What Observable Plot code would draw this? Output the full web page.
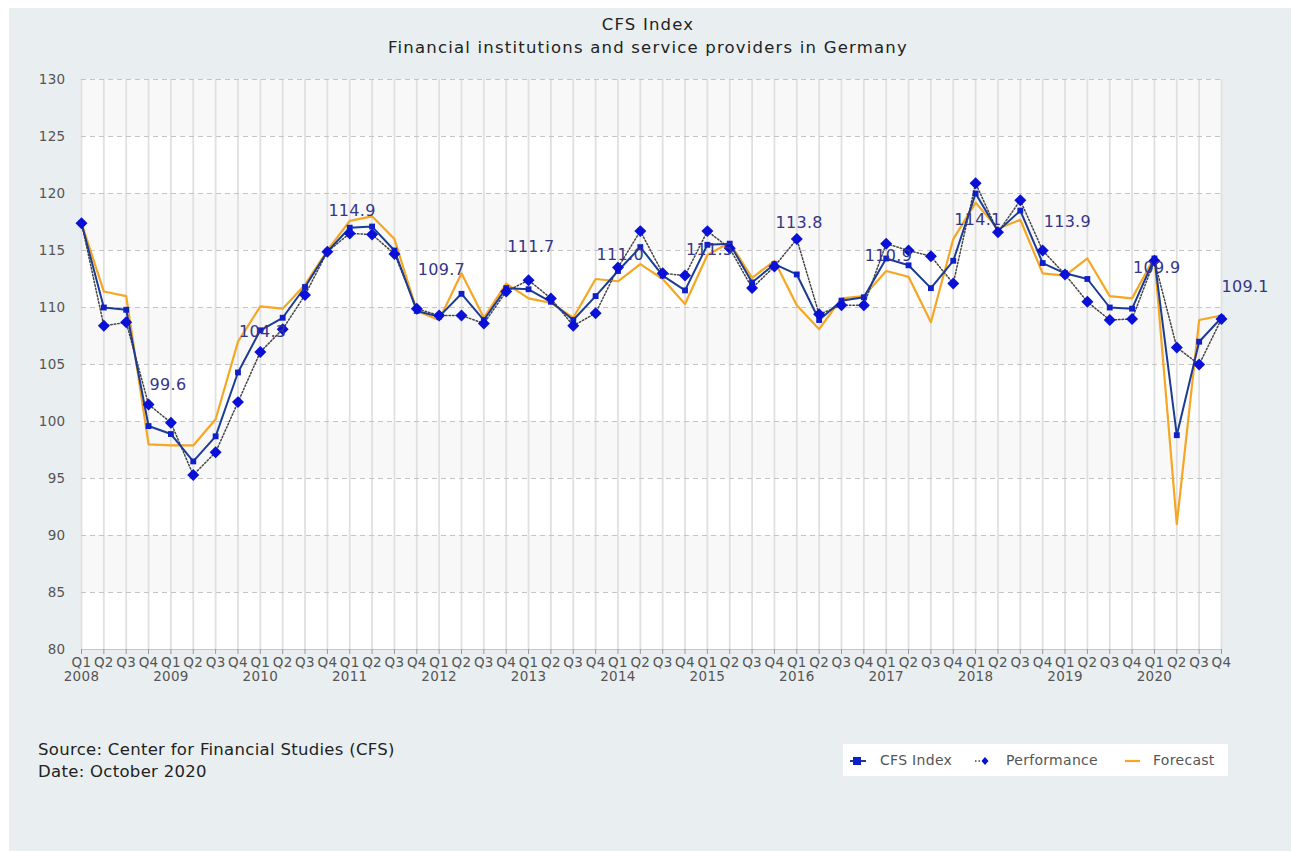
<!DOCTYPE html>
<html>
<head>
<meta charset="utf-8">
<script src="https://cdn.jsdelivr.net/npm/d3@7"></script>
<script src="https://cdn.jsdelivr.net/npm/@observablehq/plot@0.6"></script>
<style>
  html, body { margin: 0; padding: 0; background: #ffffff; width: 1292px; height: 852px; overflow: hidden; }
  #panel { position: absolute; left: 9px; top: 8px; width: 1282px; height: 843px; background: #e9eff1; }
  .t { position: absolute; font-family: "DejaVu Sans", sans-serif; color: #222; white-space: nowrap; }
  #title { left: 0; width: 1296px; text-align: center; top: 13px; font-size: 16.5px; line-height: 23px; letter-spacing: 1.2px; color: #222; }
  #chart { position: absolute; left: 0; top: 60px; }
  #chart svg text { letter-spacing: 0.3px; }
  #source { left: 38px; top: 739px; font-size: 16.5px; line-height: 22px; letter-spacing: 0.3px; color: #222; }
  #legend { position: absolute; left: 843px; top: 744px; width: 385px; height: 32px; background: #fff;
            font-family: "DejaVu Sans", sans-serif; font-size: 14px; letter-spacing: 0.3px; color: #555; }
  #legend span { position: absolute; top: 8px; }
  #legend svg { position: absolute; top: 8px; }
</style>
</head>
<body>
<div id="panel"></div>
<div id="title" class="t">CFS Index<br>Financial institutions and service providers in Germany</div>
<div id="chart"></div>
<div id="source" class="t">Source: Center for Financial Studies (CFS)<br>Date: October 2020</div>
<div id="legend">
  <svg width="22" height="16" style="left:4px"><line x1="3" y1="9" x2="19" y2="9" stroke="#1c3c94" stroke-width="2"/><rect x="6" y="5" width="8" height="8" fill="#1020c8"/></svg>
  <span style="left:37px">CFS Index</span>
  <svg width="22" height="16" style="left:130px"><line x1="2" y1="9" x2="16" y2="9" stroke="#444" stroke-width="1.5" stroke-dasharray="1.5,2"/><path d="M12,5 L15.5,9 L12,13 L8.5,9 Z" fill="#0a10d0"/></svg>
  <span style="left:163px">Performance</span>
  <svg width="22" height="16" style="left:280px"><line x1="2" y1="9" x2="17" y2="9" stroke="#f5a623" stroke-width="2.2"/></svg>
  <span style="left:310px">Forecast</span>
</div>
<script>
// ---- data ----
const years = [2008, 2009, 2010, 2011, 2012, 2013, 2014, 2015, 2016, 2017, 2018, 2019, 2020];
const quarterNames = ["Q1", "Q2", "Q3", "Q4"];

const cfsIndex = [
  117.4, 110.0, 109.8, 99.6,
  98.9, 96.5, 98.7, 104.3,
  108.0, 109.1, 111.8, 114.9,
  117.0, 117.1, 115.0, 109.7,
  109.2, 111.2, 108.9, 111.7,
  111.6, 110.5, 108.9, 111.0,
  113.2, 115.3, 112.8, 111.5,
  115.5, 115.6, 112.2, 113.8,
  112.9, 108.9, 110.6, 110.9,
  114.3, 113.7, 111.7, 114.1,
  120.0, 116.7, 118.5, 113.9,
  113.0, 112.5, 110.0, 109.9,
  114.3, 98.8, 107.0, 109.1
];
const performance = [
  117.4, 108.4, 108.7, 101.5,
  99.9, 95.3, 97.3, 101.7,
  106.1, 108.1, 111.1, 114.9,
  116.5, 116.4, 114.7, 109.9,
  109.3, 109.3, 108.6, 111.4,
  112.4, 110.8, 108.4, 109.5,
  113.5, 116.7, 113.0, 112.8,
  116.7, 115.2, 111.7, 113.6,
  116.0, 109.4, 110.2, 110.2,
  115.6, 115.0, 114.5, 112.1,
  120.9, 116.6, 119.4, 115.0,
  112.9, 110.5, 108.9, 109.0,
  114.1, 106.5, 105.0, 109.0
];
const forecast = [
  117.4, 111.4, 111.0, 98.0,
  97.9, 97.9, 100.2, 107.0,
  110.1, 109.9, 112.0, 115.0,
  117.6, 118.0, 116.0, 109.7,
  108.9, 113.0, 109.1, 112.1,
  110.8, 110.4, 109.1, 112.5,
  112.3, 113.8, 112.5, 110.3,
  114.6, 115.7, 112.6, 114.1,
  110.2, 108.1, 110.8, 111.0,
  113.2, 112.7, 108.7, 116.0,
  119.2, 116.9, 117.7, 113.0,
  112.8, 114.3, 111.0, 110.8,
  114.4, 91.0, 108.9, 109.3
];
const yTicks = [80, 85, 90, 95, 100, 105, 110, 115, 120, 125, 130];

// ---- derived tables ----
const periods = [];
years.forEach(y => quarterNames.forEach(q => periods.push({year: y, q})));
const rows = periods.map((p, i) => ({i, year: p.year, q: p.q, cfs: cfsIndex[i], perf: performance[i], fc: forecast[i]}));
const tickLabel = i => rows[i].q === "Q1" ? `Q1\n${rows[i].year}` : rows[i].q;
const last = rows.length - 1;
const q4Labels = rows.filter(r => r.q === "Q4" && r.i !== 0 && r.i !== last);
const lastLabel = [rows[last]];
const bands = yTicks.slice(0, -1).map((v, k) => ({y1: v, y2: yTicks[k + 1], k})).filter(b => b.k % 2 === 1);

const chart = Plot.plot({
  width: 1292,
  height: 640,
  marginLeft: 81,
  marginRight: 71,
  marginTop: 19,
  marginBottom: 51,
  style: {background: "transparent", fontFamily: "DejaVu Sans, sans-serif", fontSize: "13.5px", color: "#555", overflow: "visible"},
  x: {domain: [0, last], axis: null, label: null},
  y: {domain: [80, 130], axis: null, label: null},
  marks: [
    Plot.frame({fill: "#ffffff", stroke: "#dcdcdc"}),
    Plot.rectY(bands, {x1: 0, x2: last, y1: "y1", y2: "y2", fill: "#f8f8f8"}),
    Plot.gridX(rows.map(r => r.i), {stroke: "#e0e0e0", strokeOpacity: 1, strokeWidth: 1.8}),
    Plot.gridY(yTicks, {stroke: "#c4c4c4", strokeOpacity: 1, strokeDasharray: "5,4"}),
    Plot.ruleY([80], {stroke: "#c8c8c8"}),
    Plot.axisY(yTicks, {tickSize: 0, tickPadding: 16, fontSize: 13.5, fill: "#555", label: null}),
    Plot.axisX(rows.map(r => r.i), {tickSize: 5, tickPadding: 2, tickFormat: tickLabel, fontSize: 13.5, fill: "#555", stroke: "#999", lineHeight: 1.08, label: null}),
    Plot.lineY(rows, {x: "i", y: "fc", stroke: "#f5a623", strokeWidth: 2.2}),
    Plot.lineY(rows, {x: "i", y: "perf", stroke: "#444", strokeWidth: 1.5, strokeDasharray: "1.5,2"}),
    Plot.lineY(rows, {x: "i", y: "cfs", stroke: "#1c3c94", strokeWidth: 2}),
    Plot.dot(rows, {x: "i", y: "cfs", symbol: "square", r: 3.3, fill: "#1020c8"}),
    Plot.dot(rows, {x: "i", y: "perf", symbol: "diamond2", r: 5.4, fill: "#0a10d8"}),
    Plot.text(q4Labels, {x: "i", y: "cfs", text: d => d.cfs.toFixed(1), dy: -41, dx: 1, textAnchor: "start", fontSize: 16, fill: "#35358a"}),
    Plot.text(lastLabel, {x: "i", y: "cfs", text: d => d.cfs.toFixed(1), dy: -31, dx: 0, textAnchor: "start", fontSize: 16, fill: "#35358a"})
  ]
});
document.getElementById("chart").appendChild(chart);
</script>
</body>
</html>
